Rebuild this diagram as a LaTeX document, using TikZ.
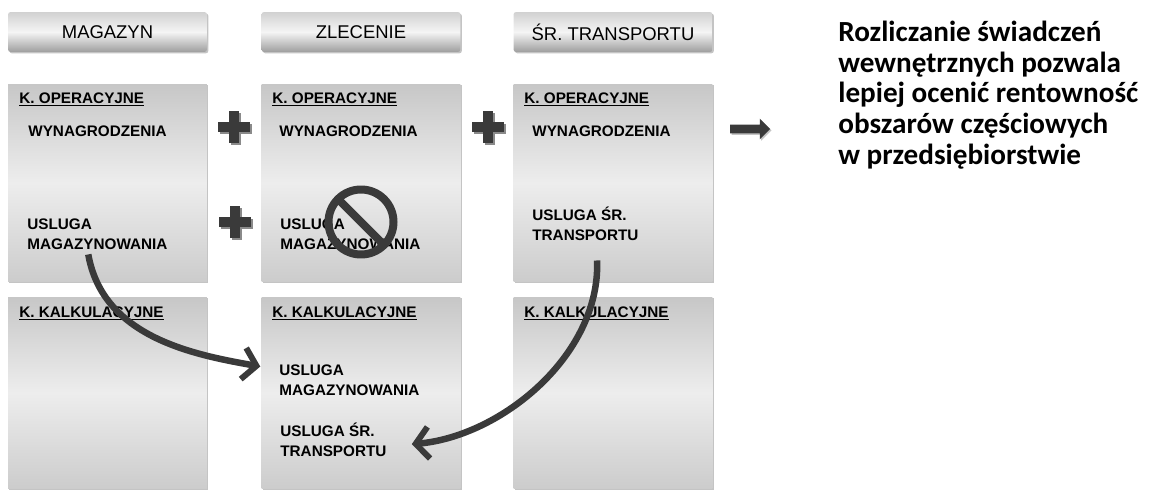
\documentclass[tikz,border=0pt]{standalone}
\usepackage{fontspec}
\setmainfont{Liberation Sans}
\newfontfamily\calfont{Carlito}
\usetikzlibrary{arrows.meta,shadows,shapes.arrows}

\definecolor{ciemny}{HTML}{3A3A3A}
\definecolor{cien}{HTML}{8A8A8A}

\begin{document}
\begin{tikzpicture}[x=0.02cm,y=-0.02cm,>=Stealth,
    naglowek/.style={minimum width=3.98cm, minimum height=0.8cm, rounded corners=1.5pt,
      top color=black!18, bottom color=black!38, middle color=black!4,
      drop shadow={shadow xshift=0.8pt, shadow yshift=-0.8pt, fill=cien},
      font=\fontsize{10.5}{12}\selectfont},
    gorne/.style={minimum width=3.98cm, minimum height=3.96cm, inner sep=0pt,
      top color=black!22, bottom color=black!20, middle color=black!7,
      drop shadow={shadow xshift=0.8pt, shadow yshift=-0.8pt, fill=cien}},
    dolne/.style={gorne, minimum height=3.84cm},
    tekst/.style={anchor=base west, inner sep=0pt, align=left,
      font=\fontsize{8.7}{11.3}\selectfont\bfseries},
    luk/.style={draw=ciemny, line width=0.13cm,
      -{Straight Barb[length=7.5pt,width=18pt,line width=3.4pt]}}]

  \useasboundingbox (0,0) rectangle (1154,490);

  % naglowki kolumn
  \node[naglowek] (hmag) at (107.5,32) {MAGAZYN};
  \node[naglowek] (hzl) at (361,32) {ZLECENIE};
  \node[naglowek] (htr) at (613,32) {ŚR. TRANSPORTU};

  % bloki
  \node[gorne] (gmag) at (107.5,183) {};
  \node[gorne] (gzl) at (361,183) {};
  \node[gorne] (gtr) at (613,183) {};
  \node[dolne] (dmag) at (107.5,393) {};
  \node[dolne] (dzl) at (361,393) {};
  \node[dolne] (dtr) at (613,393) {};

  % koszty operacyjne
  \node[tekst] (op1) at (19,103) {\underline{K. OPERACYJNE}};
  \node[tekst] (op2) at (272,103) {\underline{K. OPERACYJNE}};
  \node[tekst] (op3) at (524,103) {\underline{K. OPERACYJNE}};
  \node[tekst] (wyn1) at (28,136) {WYNAGRODZENIA};
  \node[tekst] (wyn2) at (279,136) {WYNAGRODZENIA};
  \node[tekst] (wyn3) at (532,136) {WYNAGRODZENIA};
  \node[tekst] (usmag) at (27,249) {USLUGA\\MAGAZYNOWANIA};
  \node[tekst] (uszl) at (280,249) {USLUGA\\MAGAZYNOWANIA};
  \node[tekst] (ustr) at (532,240) {USLUGA ŚR.\\TRANSPORTU};

  % koszty kalkulacyjne
  \node[tekst] (kal1) at (19,317) {\underline{K. KALKULACYJNE}};
  \node[tekst] (kal2) at (272,317) {\underline{K. KALKULACYJNE}};
  \node[tekst] (kal3) at (524,317) {\underline{K. KALKULACYJNE}};
  \node[tekst] (zlmag) at (279,395) {USLUGA\\MAGAZYNOWANIA};
  \node[tekst] (zltr) at (280,456) {USLUGA ŚR.\\TRANSPORTU};

  % plusy
  \foreach \px/\py in {234/127, 235/222, 488/127} {
    \fill[cien] (\px-14,\py-3) rectangle (\px+18,\py+7);
    \fill[cien] (\px-3,\py-14) rectangle (\px+7,\py+18);
    \fill[ciemny] (\px-16,\py-5) rectangle (\px+16,\py+5);
    \fill[ciemny] (\px-5,\py-16) rectangle (\px+5,\py+16);
  }

  % zakaz
  \node[circle, draw=ciemny, line width=0.16cm, minimum size=1.3cm, outer sep=0pt] (zakaz) at (361,222) {};
  \draw[ciemny, line width=0.16cm] (zakaz.north west) -- (zakaz.south east);

  % strzalka i wniosek
  \node[single arrow, fill=ciemny, inner xsep=0pt, inner ysep=0.08cm, minimum height=0.8cm,
    single arrow head extend=0.12cm, drop shadow={shadow xshift=0.8pt, shadow yshift=-0.8pt, fill=cien}] (strz) at (748,129) {};
  \node[anchor=north west, align=left, inner sep=0pt,
    font=\calfont\bfseries\fontsize{16.6}{17.4}\selectfont] (wniosek) at (838,21)
    {Rozliczanie świadczeń\\wewnętrznych pozwala\\lepiej ocenić rentowność\\obszarów częściowych\\w przedsiębiorstwie};

  % przeniesienia
  \draw[luk, shorten <=0.1cm, shorten >=0.38cm] ([xshift=-0.2cm]usmag.south) to[out=-80, in=170] ([yshift=0.2cm]zlmag.west);
  \draw[luk, shorten <=0.4cm, shorten >=0.5cm] ([xshift=0.22cm]ustr.south) to[out=-88, in=5] ([yshift=-0.14cm]zltr.east);

\end{tikzpicture}
\end{document}
